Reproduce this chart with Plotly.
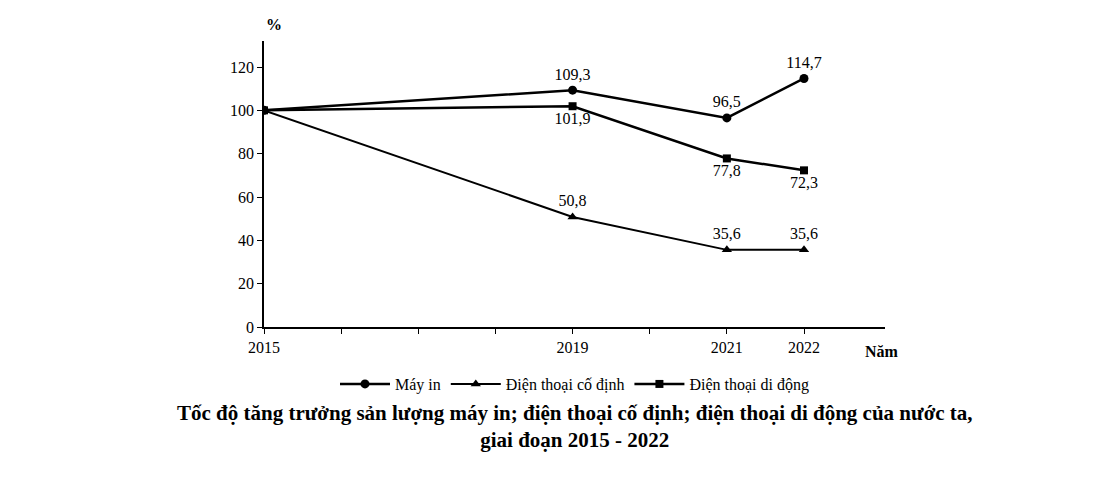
import plotly.graph_objects as go

years = [2015, 2019, 2021, 2022]
may_in = [100, 109.3, 96.5, 114.7]
co_dinh = [100, 50.8, 35.6, 35.6]
di_dong = [100, 101.9, 77.8, 72.3]
tick_years = [2015, 2016, 2017, 2018, 2019, 2020, 2021, 2022]
tick_labels = ["2015", "", "", "", "2019", "", "2021", "2022"]


def lbl(vals):
    # comma decimals, no label on the 2015 base point
    return [""] + [f"{v:.1f}".replace(".", ",") for v in vals[1:]]


FONT = "Liberation Serif"
fig = go.Figure()
fig.add_trace(go.Scatter(
    x=years, y=may_in, name="Máy in", mode="lines+markers+text",
    text=lbl(may_in), textposition="top center",
    line=dict(color="black", width=2.5), marker=dict(symbol="circle", size=9, color="black"),
    textfont=dict(size=16),
))
fig.add_trace(go.Scatter(
    x=years, y=co_dinh, name="Điện thoại cố định", mode="lines+markers+text",
    text=lbl(co_dinh), textposition="top center",
    line=dict(color="black", width=2), marker=dict(symbol="triangle-up", size=9, color="black"),
    textfont=dict(size=16),
))
fig.add_trace(go.Scatter(
    x=years, y=di_dong, name="Điện thoại di động", mode="lines+markers+text",
    text=lbl(di_dong), textposition="bottom center",
    line=dict(color="black", width=2.5), marker=dict(symbol="square", size=8, color="black"),
    textfont=dict(size=16),
))

fig.update_layout(
    width=1109, height=480,
    margin=dict(l=256, r=232, t=33, b=161),
    plot_bgcolor="white", paper_bgcolor="white",
    font=dict(family=FONT, color="black", size=15),
    showlegend=True,
    legend=dict(orientation="h", x=0.5, xanchor="center", y=-0.14, yanchor="top",
                font=dict(size=16), itemwidth=50, tracegroupgap=40),
    xaxis=dict(range=[2015, 2023.05], tickvals=tick_years, ticktext=tick_labels,
               showgrid=False, zeroline=False, showline=True, linecolor="black", linewidth=1.5,
               ticks="outside", ticklen=5, tickcolor="black", tickfont=dict(size=16)),
    yaxis=dict(range=[0, 132], tickvals=[0, 20, 40, 60, 80, 100, 120],
               showgrid=False, zeroline=False, showline=True, linecolor="black", linewidth=1.5,
               ticks="outside", ticklen=5, tickcolor="black", tickfont=dict(size=16)),
    annotations=[
        dict(text="<b>%</b>", x=0, y=1.0, xref="paper", yref="paper", yanchor="bottom",
             showarrow=False, font=dict(size=16), yshift=6),
        dict(text="<b>Năm</b>", x=1.0, y=0, xref="paper", yref="paper", xanchor="left",
             yanchor="top", showarrow=False, font=dict(size=16), xshift=-22, yshift=-14),
        dict(text="<b>Tốc độ tăng trưởng sản lượng máy in; điện thoại cố định; điện thoại di động của nước ta,</b><br>"
                  "<b>giai đoạn 2015 - 2022</b>",
             x=0.5, y=-0.25, xref="paper", yref="paper", xanchor="center", yanchor="top",
             showarrow=False, font=dict(size=21)),
    ],
)
fig.write_html("out.html")
